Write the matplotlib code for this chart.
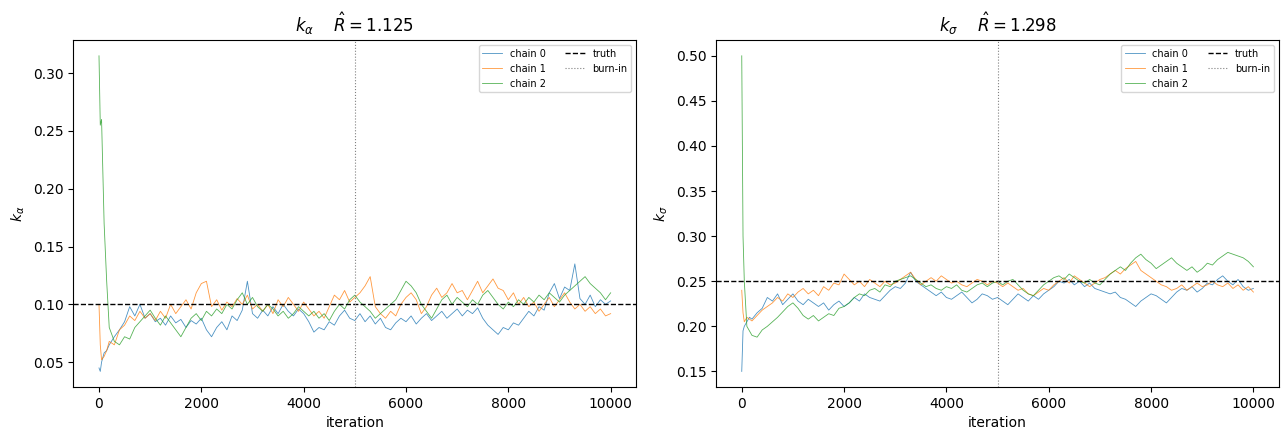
import matplotlib
matplotlib.use("Agg")
import matplotlib.pyplot as plt

iterations = [0, 25, 50, 100, 150] + list(range(200, 10001, 100))

# k_alpha traces
ka_chain0 = [0.045, 0.042, 0.050, 0.058, 0.060,
             0.065, 0.072, 0.078, 0.085, 0.098, 0.090, 0.100, 0.088, 0.092, 0.085,
             0.088, 0.082, 0.090, 0.084, 0.087, 0.080, 0.086, 0.083, 0.088, 0.078,
             0.072, 0.080, 0.085, 0.078, 0.090, 0.086, 0.095, 0.120, 0.092, 0.088,
             0.095, 0.090, 0.098, 0.092, 0.100, 0.094, 0.090, 0.096, 0.092, 0.085,
             0.076, 0.080, 0.078, 0.085, 0.082, 0.090, 0.095, 0.088, 0.086, 0.092,
             0.085, 0.090, 0.083, 0.088, 0.080, 0.078, 0.084, 0.088, 0.085, 0.090,
             0.083, 0.088, 0.092, 0.086, 0.090, 0.094, 0.088, 0.092, 0.096, 0.090,
             0.095, 0.092, 0.097, 0.088, 0.082, 0.078, 0.074, 0.080, 0.078, 0.084,
             0.082, 0.088, 0.094, 0.090, 0.098, 0.095, 0.110, 0.118, 0.105, 0.115,
             0.112, 0.135, 0.105, 0.100, 0.108, 0.098, 0.104, 0.100, 0.103]
ka_chain1 = [0.100, 0.065, 0.052, 0.055, 0.060,
             0.068, 0.065, 0.078, 0.082, 0.090, 0.086, 0.094, 0.088, 0.092, 0.086,
             0.094, 0.088, 0.100, 0.092, 0.098, 0.104, 0.096, 0.110, 0.118, 0.120,
             0.098, 0.104, 0.095, 0.102, 0.098, 0.105, 0.100, 0.108, 0.096, 0.100,
             0.094, 0.100, 0.092, 0.104, 0.098, 0.106, 0.100, 0.094, 0.102, 0.096,
             0.090, 0.094, 0.088, 0.098, 0.108, 0.104, 0.112, 0.102, 0.106, 0.110,
             0.116, 0.124, 0.098, 0.092, 0.088, 0.094, 0.090, 0.100, 0.106, 0.110,
             0.104, 0.092, 0.098, 0.108, 0.114, 0.106, 0.110, 0.118, 0.110, 0.112,
             0.104, 0.112, 0.120, 0.110, 0.116, 0.122, 0.114, 0.112, 0.104, 0.110,
             0.100, 0.106, 0.098, 0.102, 0.094, 0.100, 0.106, 0.098, 0.104, 0.110,
             0.102, 0.096, 0.100, 0.094, 0.098, 0.092, 0.096, 0.090, 0.092]
ka_chain2 = [0.315, 0.255, 0.260, 0.170, 0.120,
             0.080, 0.068, 0.065, 0.072, 0.070, 0.080, 0.085, 0.090, 0.095, 0.088,
             0.082, 0.090, 0.084, 0.078, 0.072, 0.080, 0.088, 0.092, 0.086, 0.094,
             0.090, 0.096, 0.092, 0.100, 0.096, 0.104, 0.110, 0.100, 0.106, 0.098,
             0.094, 0.100, 0.096, 0.090, 0.094, 0.088, 0.092, 0.098, 0.094, 0.090,
             0.094, 0.088, 0.092, 0.086, 0.094, 0.100, 0.096, 0.104, 0.108, 0.102,
             0.098, 0.094, 0.088, 0.092, 0.096, 0.100, 0.104, 0.112, 0.120, 0.116,
             0.110, 0.100, 0.094, 0.088, 0.096, 0.104, 0.108, 0.100, 0.106, 0.102,
             0.098, 0.104, 0.100, 0.108, 0.112, 0.106, 0.100, 0.096, 0.102, 0.098,
             0.104, 0.100, 0.106, 0.102, 0.108, 0.104, 0.110, 0.106, 0.102, 0.108,
             0.112, 0.116, 0.120, 0.124, 0.118, 0.114, 0.110, 0.104, 0.110]

# k_sigma traces
ks_chain0 = [0.150, 0.195, 0.200, 0.205, 0.210,
             0.208, 0.215, 0.220, 0.232, 0.228, 0.236, 0.224, 0.230, 0.236, 0.228,
             0.224, 0.230, 0.226, 0.222, 0.226, 0.218, 0.224, 0.228, 0.222, 0.226,
             0.232, 0.228, 0.236, 0.232, 0.230, 0.228, 0.234, 0.240, 0.244, 0.242,
             0.248, 0.260, 0.250, 0.246, 0.242, 0.238, 0.234, 0.238, 0.232, 0.230,
             0.234, 0.238, 0.232, 0.226, 0.230, 0.236, 0.234, 0.230, 0.232, 0.228,
             0.224, 0.230, 0.236, 0.232, 0.228, 0.234, 0.230, 0.236, 0.240, 0.244,
             0.250, 0.248, 0.252, 0.246, 0.250, 0.244, 0.248, 0.242, 0.240, 0.238,
             0.236, 0.238, 0.232, 0.230, 0.226, 0.222, 0.228, 0.232, 0.236, 0.234,
             0.230, 0.226, 0.232, 0.238, 0.242, 0.240, 0.244, 0.238, 0.242, 0.248,
             0.246, 0.252, 0.256, 0.250, 0.246, 0.252, 0.244, 0.240, 0.242]
ks_chain1 = [0.240, 0.215, 0.205, 0.210, 0.208,
             0.206, 0.212, 0.218, 0.222, 0.226, 0.232, 0.228, 0.236, 0.232, 0.238,
             0.242, 0.236, 0.240, 0.234, 0.244, 0.240, 0.248, 0.246, 0.258, 0.252,
             0.246, 0.250, 0.244, 0.252, 0.248, 0.244, 0.250, 0.246, 0.248, 0.252,
             0.256, 0.260, 0.252, 0.246, 0.250, 0.254, 0.250, 0.256, 0.252, 0.248,
             0.250, 0.246, 0.244, 0.248, 0.252, 0.250, 0.246, 0.250, 0.248, 0.244,
             0.248, 0.244, 0.240, 0.242, 0.236, 0.234, 0.238, 0.242, 0.240, 0.246,
             0.250, 0.254, 0.248, 0.256, 0.252, 0.248, 0.244, 0.248, 0.252, 0.254,
             0.258, 0.262, 0.258, 0.264, 0.268, 0.272, 0.262, 0.258, 0.254, 0.250,
             0.246, 0.244, 0.240, 0.242, 0.246, 0.240, 0.244, 0.248, 0.244, 0.246,
             0.250, 0.246, 0.244, 0.248, 0.242, 0.246, 0.240, 0.244, 0.238]
ks_chain2 = [0.500, 0.300, 0.250, 0.200, 0.195,
             0.190, 0.188, 0.196, 0.200, 0.205, 0.210, 0.216, 0.222, 0.226, 0.220,
             0.212, 0.208, 0.212, 0.206, 0.210, 0.214, 0.212, 0.220, 0.222, 0.226,
             0.232, 0.236, 0.234, 0.240, 0.242, 0.238, 0.246, 0.244, 0.250, 0.252,
             0.254, 0.256, 0.252, 0.248, 0.244, 0.246, 0.242, 0.240, 0.244, 0.242,
             0.246, 0.240, 0.238, 0.242, 0.246, 0.248, 0.244, 0.248, 0.250, 0.246,
             0.250, 0.252, 0.246, 0.240, 0.236, 0.234, 0.240, 0.246, 0.250, 0.254,
             0.256, 0.252, 0.258, 0.254, 0.250, 0.248, 0.252, 0.248, 0.246, 0.252,
             0.258, 0.262, 0.266, 0.262, 0.270, 0.276, 0.280, 0.274, 0.270, 0.264,
             0.268, 0.272, 0.276, 0.270, 0.266, 0.262, 0.266, 0.260, 0.264, 0.270,
             0.268, 0.274, 0.278, 0.282, 0.280, 0.278, 0.276, 0.272, 0.266]

params = [
    (r"k_\alpha", [ka_chain0, ka_chain1, ka_chain2], 0.10, 1.125),
    (r"k_\sigma", [ks_chain0, ks_chain1, ks_chain2], 0.25, 1.298),
]
burn_in = 5000

fig, axes = plt.subplots(1, 2, figsize=(12.88, 4.4))
for ax, (sym, chains, truth, rhat) in zip(axes, params):
    for c, trace in enumerate(chains):
        ax.plot(iterations, trace, lw=0.6, alpha=0.8, label=f"chain {c}")
    ax.axhline(truth, color="k", ls="--", lw=1, label="truth")
    ax.axvline(burn_in, color="gray", ls=":", lw=0.8, label="burn-in")
    ax.set_title(rf"${sym}$    $\hat{{R}} = {rhat:.3f}$")
    ax.set_xlabel("iteration")
    ax.set_ylabel(rf"${sym}$")
    ax.legend(loc="upper right", fontsize=7, ncol=2)

fig.subplots_adjust(left=0.057, right=0.993, top=0.909, bottom=0.12, wspace=0.142)
fig.savefig("out.png", dpi=100)
